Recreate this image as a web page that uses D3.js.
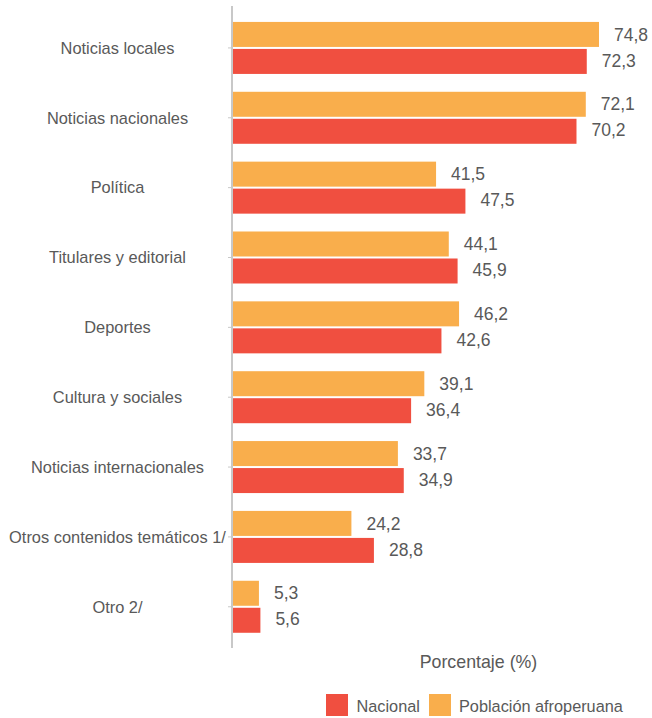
<!DOCTYPE html>
<html>
<head>
<meta charset="utf-8">
<script src="https://cdn.jsdelivr.net/npm/d3@7"></script>
<style>
html,body{margin:0;padding:0;background:#fff;}
text{font-family:"Liberation Sans",Arial,sans-serif;fill:#595959;}
</style>
</head>
<body>
<svg id="chart" width="652" height="718"></svg>
<script>
const categories = ["Noticias locales","Noticias nacionales","Política","Titulares y editorial","Deportes","Cultura y sociales","Noticias internacionales","Otros contenidos temáticos 1/","Otro 2/"];
const afroperuana = [74.8,72.1,41.5,44.1,46.2,39.1,33.7,24.2,5.3];
const nacional = [72.3,70.2,47.5,45.9,42.6,36.4,34.9,28.8,5.6];
const seriesNames = ["Nacional","Población afroperuana"];
const axisTitle = "Porcentaje (%)";

const colors = {"Nacional":"#F04F40","Población afroperuana":"#F9AE4C"};
const svg = d3.select("#chart");

const x = d3.scaleLinear().domain([0, 74.8]).range([233, 599]);
const y = d3.scaleBand().domain(categories).range([13, 641.7]);
const fmt = v => d3.format(".1f")(v).replace(".", ",");

// axis line
svg.append("line").attr("x1",232).attr("x2",232).attr("y1",6).attr("y2",648)
  .attr("stroke","#c8c8c8").attr("stroke-width",2);

// ticks + category labels
categories.forEach(c => {
  const cy = y(c) + y.bandwidth()/2;
  svg.append("line").attr("x1",228).attr("x2",232).attr("y1",cy).attr("y2",cy)
    .attr("stroke","#c8c8c8").attr("stroke-width",1);
  svg.append("text").attr("x",117.5).attr("y",cy).attr("dy","0.35em")
    .attr("text-anchor","middle").style("font-size","16.4px").text(c);
});

const rows = categories.map((c,i)=>({c, a: afroperuana[i], n: nacional[i]}));

const g = svg.append("g");
rows.forEach(r => {
  const cy = y(r.c) + y.bandwidth()/2;
  // afroperuana (top)
  g.append("rect").attr("x",x(0)).attr("y",cy-26).attr("width",x(r.a)-x(0)).attr("height",25)
    .attr("fill",colors["Población afroperuana"]);
  g.append("text").attr("x",x(r.a)+15).attr("y",cy-13.5).attr("dy","0.35em")
    .style("font-size","17.5px").text(fmt(r.a));
  // nacional (bottom)
  g.append("rect").attr("x",x(0)).attr("y",cy+1).attr("width",x(r.n)-x(0)).attr("height",25)
    .attr("fill",colors["Nacional"]);
  g.append("text").attr("x",x(r.n)+15).attr("y",cy+12.5).attr("dy","0.35em")
    .style("font-size","17.5px").text(fmt(r.n));
});

// axis title
svg.append("text").attr("x",478.5).attr("y",668).attr("text-anchor","middle")
  .style("font-size","17.8px").text(axisTitle);

// legend
const leg = [{name:seriesNames[0], x:326, tx:356.5},{name:seriesNames[1], x:429, tx:459}];
leg.forEach(l=>{
  svg.append("rect").attr("x",l.x).attr("y",694).attr("width",22).attr("height",22).attr("fill",colors[l.name]);
  svg.append("text").attr("x",l.tx).attr("y",711.5).style("font-size","16.3px").text(l.name);
});
</script>
</body>
</html>
